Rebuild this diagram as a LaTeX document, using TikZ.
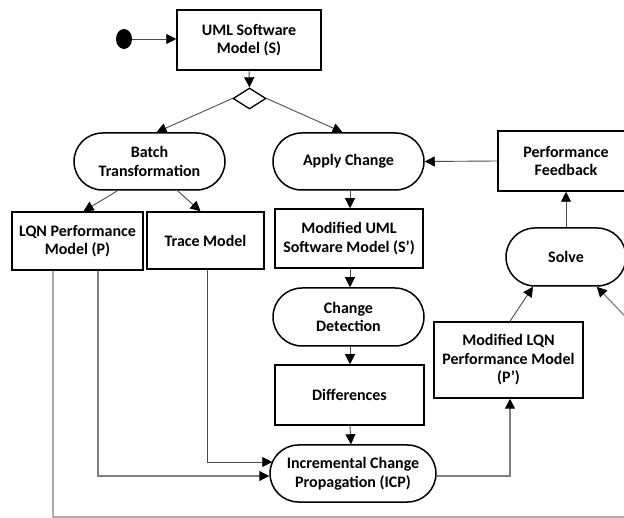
\documentclass[tikz,border=0pt]{standalone}
\usepackage{fontspec}
\setmainfont{Carlito}
\usetikzlibrary{arrows.meta,shapes.geometric,shapes.misc}

\tikzset{
  txt/.style={font=\fontsize{16}{18.5}\selectfont\bfseries, align=center, inner sep=0pt},
  box/.style={txt, draw=black, line width=1.5pt, rectangle},
  act/.style={txt, draw=black, line width=1.5pt, rounded rectangle},
  flow/.style={draw=black!70, line width=0.9pt,
    -{Triangle[length=10pt,width=10pt,color=black]}},
  softflow/.style={flow, draw=black!50, line width=1.2pt}
}

\begin{document}
\begin{tikzpicture}[x=1pt,y=-1pt]
\useasboundingbox (0,0) rectangle (624,518);
\clip (0,0) rectangle (624,518);
\fill[white] (0,0) rectangle (624,518);

% start point and source model
\node[ellipse, fill=black, minimum width=16pt, minimum height=20pt, inner sep=0pt] (start) at (124,39) {};
\node[box, minimum width=144pt, minimum height=60pt] (uml) at (249,40) {UML Software\\Model (S)};
\node[diamond, draw=black, line width=1.3pt, fill=white, minimum width=33pt, minimum height=21pt, inner sep=0pt] (dec) at (249.5,98.5) {};

% left branch: batch transformation
\node[act, minimum width=151pt, minimum height=57pt] (batch) at (149.5,161.5) {Batch\\Transformation};
\node[box, minimum width=131pt, minimum height=58pt] (lqn) at (77.5,241) {LQN Performance\\Model (P)};
\node[box, minimum width=117pt, minimum height=57pt] (trace) at (205.5,240.5) {Trace Model};

% middle branch: change handling
\node[act, minimum width=151pt, minimum height=57pt] (apply) at (348.5,161.5) {Apply Change};
\node[box, minimum width=148pt, minimum height=59pt] (muml) at (349,238.5) {Modified UML\\Software Model (S’)};
\node[act, minimum width=151pt, minimum height=58pt] (cd) at (348.5,317) {Change\\Detection};
\node[box, minimum width=149pt, minimum height=60pt] (diff) at (349.5,395) {Differences};
\node[act, minimum width=166pt, minimum height=57pt] (icp) at (353,473.5) {Incremental Change\\Propagation (ICP)};

% right branch: solving and feedback
\node[box, minimum width=149pt, minimum height=76pt] (mlqn) at (508.5,360) {Modified LQN\\Performance Model\\(P’)};
\node[act, minimum width=120pt, minimum height=58pt] (solve) at (566,257) {Solve};
\node[box, minimum width=136pt, minimum height=60pt] (perf) at (566,161) {Performance\\Feedback};

% bends of the long return path
\coordinate (loopa) at (645,517);
\coordinate (loopb) at (645,337);

% connectors
\draw[flow] (start) -- (uml.west |- start);
\draw[flow] (uml.south) -- (dec.north);
\draw[flow] (dec.west) -- ([xshift=7pt]batch.north);
\draw[flow] (dec.east) -- ([xshift=-6pt]apply.north);
\draw[flow] ([xshift=-32pt]batch.south) -- ([xshift=6pt]lqn.north);
\draw[flow] ([xshift=28pt]batch.south) -- ([xshift=-5pt]trace.north);
\draw[flow] ([xshift=1.5pt]apply.south) -- ([xshift=1pt]muml.north);
\draw[flow] ([xshift=1pt]muml.south) -- ([xshift=1.5pt]cd.north);
\draw[flow] ([xshift=1.5pt]cd.south) -- ([xshift=0.5pt]diff.north);
\draw[flow] ([xshift=0.5pt]diff.south) -- ([xshift=-2pt]icp.north);
\draw[flow] (perf.west) -- (apply.east);
\draw[flow] (solve.north) -- (perf.south);
\draw[flow] ([xshift=1.5pt]mlqn.north) -- (solve.222);
\draw[softflow] ([xshift=20.5pt]lqn.south) |- ([yshift=-2.5pt]icp.west);
\draw[flow] ([xshift=1.5pt]trace.south) |- ([shift={(3pt,11.5pt)}]icp.west);
\draw[softflow] ([yshift=-2.5pt]icp.east) -| ([xshift=1.5pt]mlqn.south);
\draw[softflow] ([xshift=-24.5pt]lqn.south) |- (loopa) -- (loopb) -- (solve.316);
\end{tikzpicture}
\end{document}
